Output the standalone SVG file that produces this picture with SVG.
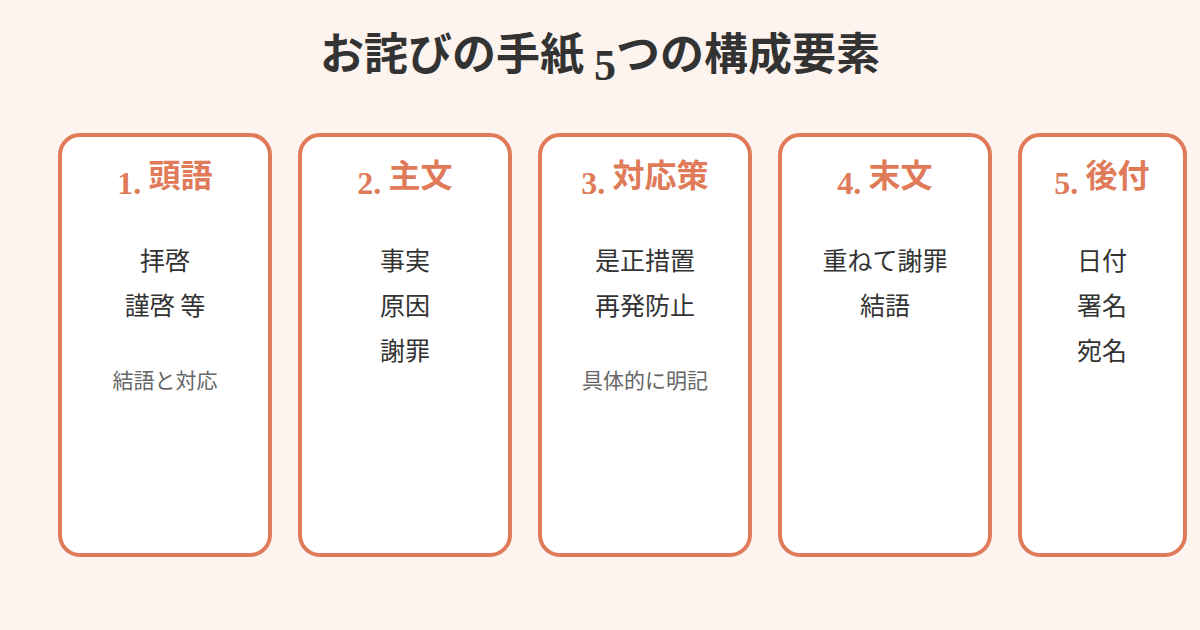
<svg xmlns="http://www.w3.org/2000/svg" width="1200" height="630" viewBox="0 0 1200 630">
<style>
.bg{fill:#FDF4EF}
.box{fill:#FFFFFF;stroke:#E07B5A;stroke-width:4}
.title{font-family:"Noto Sans CJK JP","Noto Sans",sans-serif;font-weight:700;font-size:44px;fill:#333333}
.num{font-family:"Liberation Serif",serif;font-weight:700}
.head{font-family:"Noto Sans CJK JP","Noto Sans",sans-serif;font-weight:700;font-size:32px;fill:#E07B5A;text-anchor:middle}
.item{font-family:"Noto Sans CJK JP","Noto Sans",sans-serif;font-size:25px;fill:#333333;text-anchor:middle}
.note{font-family:"Noto Sans CJK JP","Noto Sans",sans-serif;font-size:21px;fill:#666666;text-anchor:middle}
</style>
<rect class="bg" x="0" y="0" width="1200" height="630"/>
<g id="title">
<text class="title" x="600" y="70" text-anchor="middle">お詫びの手紙 <tspan class="num" dy="10">5</tspan><tspan dy="-10">つの構成要素</tspan></text>
</g>
<g id="connectors"></g>
<g id="node1">
<rect class="box" x="60" y="135" width="210" height="420" rx="20"/>
<text class="head" x="165" y="194"><tspan class="num">1.</tspan><tspan dy="-7"> 頭語</tspan></text>
<text class="item" x="165" y="270">拝啓</text>
<text class="item" x="165" y="315">謹啓 等</text>
<text class="note" x="165" y="388">結語と対応</text>
</g>
<g id="node2">
<rect class="box" x="300" y="135" width="210" height="420" rx="20"/>
<text class="head" x="405" y="194"><tspan class="num">2.</tspan><tspan dy="-7"> 主文</tspan></text>
<text class="item" x="405" y="270">事実</text>
<text class="item" x="405" y="315">原因</text>
<text class="item" x="405" y="360">謝罪</text>
</g>
<g id="node3">
<rect class="box" x="540" y="135" width="210" height="420" rx="20"/>
<text class="head" x="645" y="194"><tspan class="num">3.</tspan><tspan dy="-7"> 対応策</tspan></text>
<text class="item" x="645" y="270">是正措置</text>
<text class="item" x="645" y="315">再発防止</text>
<text class="note" x="645" y="388">具体的に明記</text>
</g>
<g id="node4">
<rect class="box" x="780" y="135" width="210" height="420" rx="20"/>
<text class="head" x="885" y="194"><tspan class="num">4.</tspan><tspan dy="-7"> 末文</tspan></text>
<text class="item" x="885" y="270">重ねて謝罪</text>
<text class="item" x="885" y="315">結語</text>
</g>
<g id="node5">
<rect class="box" x="1020" y="135" width="165" height="420" rx="20"/>
<text class="head" x="1102" y="194"><tspan class="num">5.</tspan><tspan dy="-7"> 後付</tspan></text>
<text class="item" x="1102" y="270">日付</text>
<text class="item" x="1102" y="315">署名</text>
<text class="item" x="1102" y="360">宛名</text>
</g>
</svg>
